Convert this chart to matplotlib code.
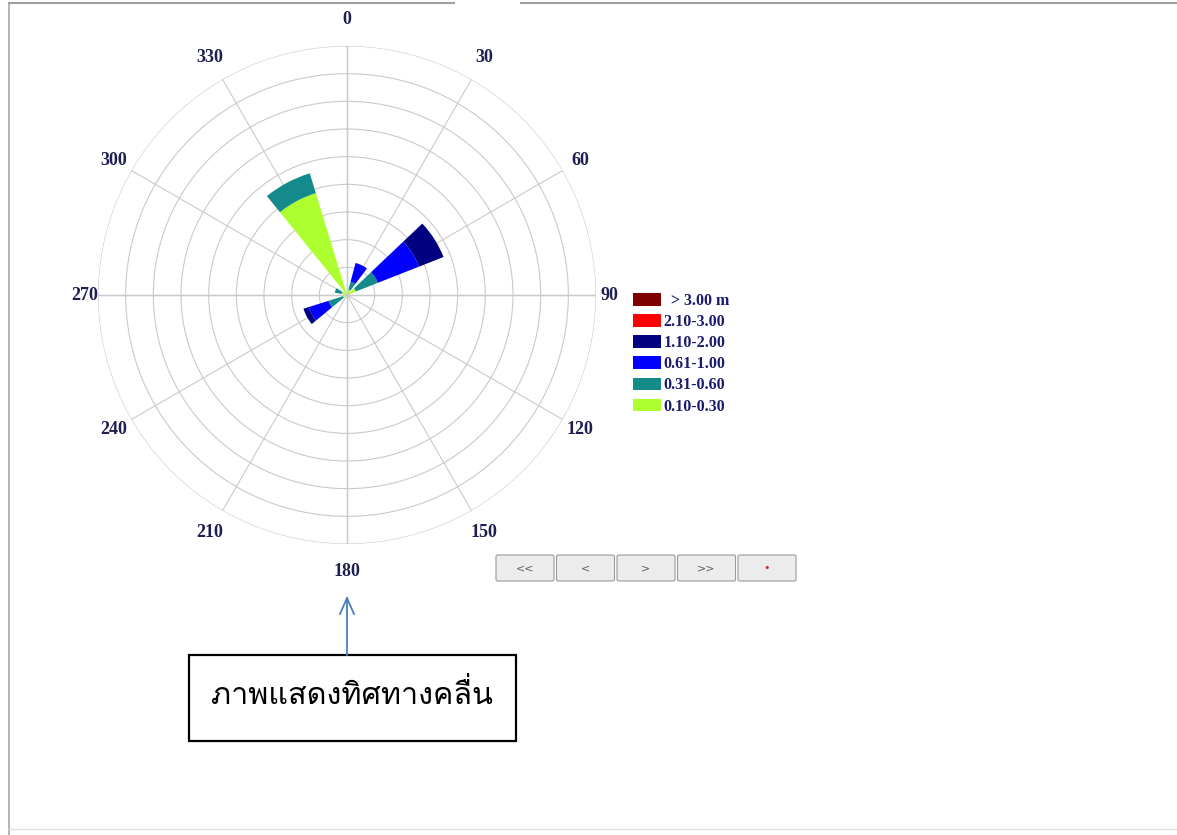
import numpy as np
import matplotlib
matplotlib.use("Agg")
import matplotlib.pyplot as plt
from matplotlib.patches import Rectangle, FancyBboxPatch

W, H = 1177, 835

# --- data: wave direction (deg) and stacked height per class (ring units) ---
directions = [332, 57.5, 26, 241.5, 292]
classes = ["0.10-0.30", "0.31-0.60", "0.61-1.00", "1.10-2.00", "2.10-3.00", "  > 3.00 m"]
colors = ["#adff2f", "#148a8a", "#0000ff", "#000080", "#ff0000", "#800000"]
h_010_030 = [3.85, 0.35, 0.20, 0.15, 0.20]
h_031_060 = [0.75, 0.85, 0.30, 0.55, 0.25]
h_061_100 = [0.00, 1.60, 0.70, 0.75, 0.00]
h_110_200 = [0.00, 0.95, 0.00, 0.20, 0.00]
h_210_300 = [0.00, 0.00, 0.00, 0.00, 0.00]
h_gt_300 = [0.00, 0.00, 0.00, 0.00, 0.00]
series = [h_010_030, h_031_060, h_061_100, h_110_200, h_210_300, h_gt_300]
angle_labels = [str(a) for a in range(0, 360, 30)]
buttons = ["<<", "<", ">", ">>", "\u2022"]
caption = "ภาพแสดงทิศทางคลื่น"

n_rings = 9
R_px = 249.0
cx, cy = 347, 295


def fx(x):
    return x / W


def fy(y):
    return 1 - y / H


fig = plt.figure(figsize=(W / 100, H / 100), dpi=100)
fig.patch.set_facecolor("white")

ax = fig.add_axes([fx(cx - R_px), fy(cy + R_px), 2 * R_px / W, 2 * R_px / H],
                  projection="polar")
ax.set_theta_zero_location("N")
ax.set_theta_direction(-1)
ax.set_ylim(0, n_rings)
ax.set_facecolor("white")
ax.spines["polar"].set_visible(False)
ax.set_yticks(np.arange(1, n_rings + 1))
ax.set_yticklabels([])
ax.set_xticks(np.radians(np.arange(0, 360, 30)))
ax.set_xticklabels([])
ax.grid(True, color="#cacaca", linewidth=0.8)

# main axis lines in a purple tone
for a in [0, 90, 180, 270]:
    ax.plot([np.radians(a)] * 2, [0, n_rings], color="#a294c8", lw=0.9, zorder=1)

theta = np.radians(directions)
bottom = np.zeros(len(directions))
for vals, col, lab in zip(series, colors, classes):
    ax.bar(theta, vals, width=np.radians(22), bottom=bottom, color=col,
           edgecolor="none", label=lab, zorder=3)
    bottom += np.array(vals)

# angle labels outside the ring
for lab in angle_labels:
    a = np.radians(int(lab))
    r_px = 262 + 14 * abs(np.cos(a))
    ax.text(a, n_rings * r_px / R_px, lab, ha="center", va="center",
            family="Liberation Serif", fontweight="bold", fontsize=13,
            color="#1e1e50", clip_on=False)

handles, labels = ax.get_legend_handles_labels()
leg = fig.legend(handles[::-1], labels[::-1], loc="upper left",
                 bbox_to_anchor=(fx(633), fy(293)), frameon=False,
                 prop={"family": "Liberation Serif", "weight": "bold", "size": 11.5},
                 handlelength=1.75, handleheight=0.85, handletextpad=0.15,
                 labelspacing=0.32, borderpad=0, borderaxespad=0)
for t in leg.get_texts():
    t.set_color("#1a1a6e")

# navigation buttons
for i, b in enumerate(buttons):
    x0 = 496 + i * 60.5
    fig.add_artist(FancyBboxPatch((fx(x0), fy(581)), 58 / W, 26 / H,
                                  boxstyle="round,pad=0,rounding_size=0.002",
                                  transform=fig.transFigure, facecolor="#ececec",
                                  edgecolor="#9a9a9a", lw=0.8))
    fig.text(fx(x0 + 29), fy(568), b, ha="center", va="center", fontsize=8,
             color="#c03030" if b == "\u2022" else "#606060")

# frame of the screenshot
fig.add_artist(plt.Line2D([fx(9), fx(9)], [fy(3), fy(835)], color="#a8a8a8", lw=1.2))
fig.add_artist(plt.Line2D([fx(9), fx(454)], [fy(3), fy(3)], color="#a0a0a0", lw=1.5))
fig.add_artist(plt.Line2D([fx(521), fx(1177)], [fy(3), fy(3)], color="#a0a0a0", lw=1.5))
fig.add_artist(plt.Line2D([fx(9), fx(1177)], [fy(829), fy(829)], color="#e0e0e0", lw=1.0))

# annotation arrow and caption box
fig.add_artist(Rectangle((fx(189), fy(741)), 327 / W, 86 / H, transform=fig.transFigure,
                         facecolor="white", edgecolor="black", lw=1.6))
fig.text(fx(352), fy(694), caption, ha="center", va="center",
         fontsize=22, color="black", family=["Loma", "Noto Sans Thai Looped", "DejaVu Sans"])
fig.add_artist(plt.Line2D([fx(347), fx(347)], [fy(655), fy(598)], color="#4a7ebb", lw=1.3))
fig.add_artist(plt.Line2D([fx(340), fx(347), fx(354)], [fy(614), fy(598), fy(614)],
                          color="#4a7ebb", lw=1.3))

fig.savefig("out.png", dpi=100)
